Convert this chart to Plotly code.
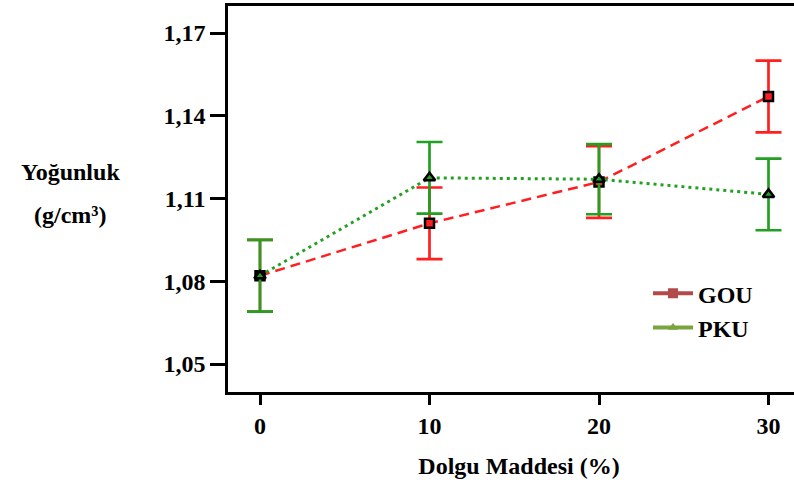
import plotly.graph_objects as go

filler = [0, 10, 20, 30]
gou = [1.082, 1.101, 1.116, 1.147]
gou_err = [0.013, 0.013, 0.013, 0.013]
pku = [1.082, 1.1175, 1.117, 1.1115]
pku_err = [0.013, 0.013, 0.0127, 0.013]
y_ticks = [1.05, 1.08, 1.11, 1.14, 1.17]
y_ticktext = ["1,05", "1,08", "1,11", "1,14", "1,17"]
x_ticks = [0, 10, 20, 30]

FONT = "Liberation Serif"

fig = go.Figure()

fig.add_trace(go.Scatter(
    x=filler, y=gou, mode="lines+markers", showlegend=False,
    line=dict(color="#ff1f1f", width=2.5, dash="10px,6px"),
    marker=dict(symbol="square", size=9, color="#ff1f1f",
                line=dict(color="black", width=2.5)),
    error_y=dict(type="data", array=gou_err, visible=True,
                 color="#ff1f1f", thickness=2.7, width=13),
))
fig.add_trace(go.Scatter(
    x=filler, y=pku, mode="lines+markers", showlegend=False,
    line=dict(color="#22a022", width=3, dash="3px,4px"),
    marker=dict(symbol="triangle-up", size=10, color="#22a022",
                line=dict(color="black", width=2.5)),
    error_y=dict(type="data", array=pku_err, visible=True,
                 color="#22a022", thickness=2.7, width=13),
))

# legend entries
fig.add_trace(go.Scatter(
    x=[None], y=[None], mode="lines+markers", name="GOU",
    line=dict(color="#b34a4a", width=4),
    marker=dict(symbol="square", size=10, color="#b34a4a"),
))
fig.add_trace(go.Scatter(
    x=[None], y=[None], mode="lines+markers", name="PKU",
    line=dict(color="#7aa43e", width=4),
    marker=dict(symbol="triangle-up", size=9, color="#7aa43e"),
))

W, H = 810, 495
L, T, B = 228, 6, 103
plot_w = W - L
plot_h = H - T - B
px_per_x = 16.95  # pixels per unit of x
x0 = -32 / px_per_x

fig.update_layout(
    width=W, height=H,
    margin=dict(l=L, r=0, t=T, b=B),
    paper_bgcolor="white", plot_bgcolor="white",
    font=dict(family=FONT, size=24, color="black"),
    showlegend=True,
    legend=dict(x=(648 - L) / plot_w, y=0.313, xanchor="left", yanchor="top",
                bgcolor="rgba(0,0,0,0)", tracegroupgap=0,
                font=dict(family=FONT, size=24, color="black", weight="bold"),
                itemwidth=40),
    xaxis=dict(
        range=[x0, x0 + plot_w / px_per_x], tickvals=x_ticks,
        ticktext=[str(v) for v in x_ticks],
        showgrid=False, zeroline=False, showline=True, linecolor="black",
        linewidth=2.5, mirror=True, ticks="outside", ticklen=10, tickwidth=3,
        tickcolor="black",
        tickfont=dict(family=FONT, size=24, color="black", weight="bold"),
        title=dict(text="<b>Dolgu Maddesi (%)</b>",
                   font=dict(family=FONT, size=24, color="black"), standoff=20),
    ),
    yaxis=dict(
        range=[1.03985, 1.17981], tickvals=y_ticks, ticktext=y_ticktext,
        showgrid=False, zeroline=False, showline=True, linecolor="black",
        linewidth=2.5, mirror=False, ticks="outside", ticklen=15, tickwidth=3,
        tickcolor="black",
        tickfont=dict(family=FONT, size=24, color="black", weight="bold"),
    ),
    annotations=[
        dict(text="<b>Yoğunluk</b>", x=(70 - L) / plot_w, y=(H - B - 172) / plot_h,
             xref="paper", yref="paper", xanchor="center", yanchor="middle",
             showarrow=False, font=dict(family=FONT, size=24, color="black")),
        dict(text="<b>(g/cm³)</b>", x=(70 - L) / plot_w, y=(H - B - 215) / plot_h,
             xref="paper", yref="paper", xanchor="center", yanchor="middle",
             showarrow=False, font=dict(family=FONT, size=24, color="black")),
    ],
)

fig.write_html("out.html",
               config={"displayModeBar": False},
               post_script="document.body.style.margin='0';"
                           "document.body.style.overflow='hidden';")
